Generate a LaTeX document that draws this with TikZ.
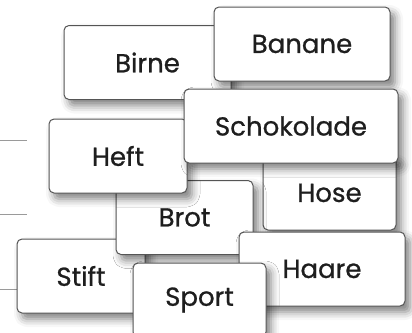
\documentclass[tikz,border=0pt]{standalone}
\usepackage{fontspec}
\setmainfont{Poppins}
\newfontfamily\cardfont{Poppins}[FakeBold=0.8]
\usetikzlibrary{shadows.blur}
\definecolor{edge}{HTML}{555555}
\definecolor{ink}{HTML}{1E1E1E}
\definecolor{guide}{HTML}{9A9A9A}
\tikzset{
  card/.style={draw=edge, line width=1pt, fill=white, rounded corners=5pt,
    minimum height=74pt, inner sep=0pt, text=ink,
    font=\cardfont\fontsize{26}{30}\selectfont,
    blur shadow={shadow xshift=5pt, shadow yshift=-6pt, shadow blur radius=8pt, shadow opacity=50}},
  guideline/.style={draw=guide, line width=0.8pt}
}
\begin{document}
\begin{tikzpicture}[x=1pt,y=-1pt]
\useasboundingbox (0,0) rectangle (412,332);
\clip (0,0) rectangle (412,332);
\coordinate (g1a) at (0,140); \coordinate (g1b) at (27,140);
\coordinate (g2a) at (0,214); \coordinate (g2b) at (27,214);
\coordinate (g3a) at (0,289); \coordinate (g3b) at (17,289);
\draw[guideline] (g1a) -- (g1b);
\draw[guideline] (g2a) -- (g2b);
\draw[guideline] (g3a) -- (g3b);
\node[card, minimum width=167pt] (birne) at (147.5,62.5) {Birne};
\node[card, minimum width=176pt] (banane) at (302,44) {Banane};
\node[card, minimum width=133pt] (hose) at (329.5,193) {Hose};
\node[card, minimum width=128pt] (stift) at (81,276) {Stift};
\node[card, minimum width=137pt] (brot) at (184.5,217.5) {Brot};
\node[card, minimum width=138pt] (heft) at (118,156) {Heft};
\node[card, minimum width=214pt] (schoko) at (291,126) {Schokolade};
\node[card, minimum width=166pt] (haare) at (322,269) {Haare};
\node[card, minimum width=133pt] (sport) at (199.5,300) {Sport};
\end{tikzpicture}
\end{document}
